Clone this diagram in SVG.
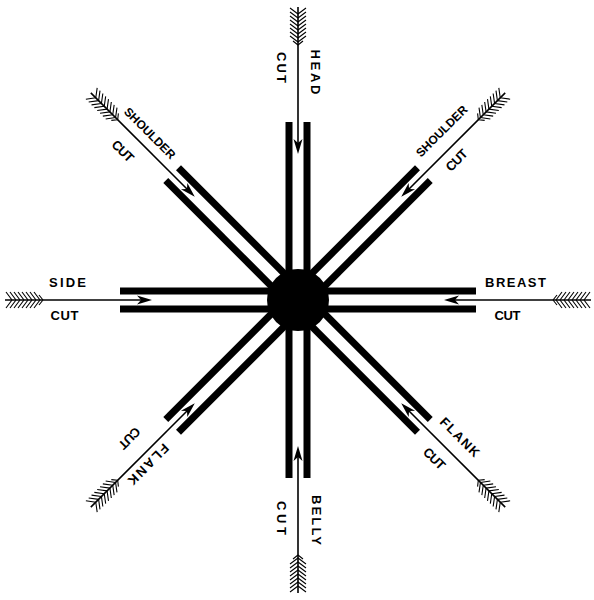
<svg xmlns="http://www.w3.org/2000/svg" xmlns:xlink="http://www.w3.org/1999/xlink" width="594" height="600" viewBox="0 0 594 600">
<style>
.bar{fill:#000}
.shaft{stroke:#000;stroke-width:1.6;fill:none}
.feather{stroke:#000;stroke-width:1.1;fill:none}
.head{fill:#000}
.lbl{font-family:"Liberation Sans",Arial,sans-serif;font-weight:bold;font-size:13px;fill:#000;text-anchor:middle}
.sm{font-size:12px}
</style>
<defs>
<g id="barpair" class="bar">
<rect x="25" y="-12.5" width="153" height="7"/>
<rect x="25" y="5.5" width="153" height="7"/>
</g>
<g id="arrow">
<line class="shaft" x1="152" y1="0" x2="293" y2="0"/>
<path class="head" d="M146,0 L161,-4.5 L157,0 L161,4.5 Z"/>
<path class="feather" d="M255,0 l4,-5 M255,0 l4,5 M258,0 l6,-8 M258,0 l6,8 M262,0 l6,-8 M262,0 l6,8 M266,0 l6,-8 M266,0 l6,8 M270,0 l6,-8 M270,0 l6,8 M274,0 l6,-8 M274,0 l6,8 M278,0 l6,-8 M278,0 l6,8 M282,0 l6,-8 M282,0 l6,8 M286,0 l6,-8 M286,0 l6,8"/>
</g>
</defs>
<rect width="594" height="600" fill="#fff"/>
<g id="arm-head">
<use xlink:href="#barpair" transform="translate(298,300) rotate(270)"/>
<text class="lbl" transform="translate(316,72) rotate(90)" y="4.7" textLength="45" lengthAdjust="spacing">HEAD</text>
<text class="lbl" transform="translate(281.5,67.5) rotate(90)" y="4.7" textLength="31" lengthAdjust="spacing">CUT</text>
</g>
<g id="arm-shoulder-left">
<use xlink:href="#barpair" transform="translate(298,300) rotate(225)"/>
<text class="lbl sm" transform="translate(150,133) rotate(45)" y="4.4" textLength="67" lengthAdjust="spacing">SHOULDER</text>
<text class="lbl" transform="translate(123,151) rotate(45)" y="4.7" textLength="25" lengthAdjust="spacing">CUT</text>
</g>
<g id="arm-shoulder-right">
<use xlink:href="#barpair" transform="translate(298,300) rotate(315)"/>
<text class="lbl sm" transform="translate(441.5,131) rotate(-45)" y="4.4" textLength="67" lengthAdjust="spacing">SHOULDER</text>
<text class="lbl" transform="translate(456.5,160) rotate(-45)" y="4.7" textLength="25" lengthAdjust="spacing">CUT</text>
</g>
<g id="arm-side">
<use xlink:href="#barpair" transform="translate(298,300) rotate(180)"/>
<text class="lbl" transform="translate(67.5,282)" y="4.7" textLength="37" lengthAdjust="spacing">SIDE</text>
<text class="lbl" transform="translate(64.5,315.5)" y="4.7" textLength="28" lengthAdjust="spacing">CUT</text>
</g>
<g id="arm-breast">
<use xlink:href="#barpair" transform="translate(298,300)"/>
<text class="lbl" transform="translate(515.5,282.5)" y="4.7" textLength="61" lengthAdjust="spacing">BREAST</text>
<text class="lbl" transform="translate(507.5,315)" y="4.7" textLength="26" lengthAdjust="spacing">CUT</text>
</g>
<g id="arm-flank-right">
<use xlink:href="#barpair" transform="translate(298,300) rotate(45)"/>
<text class="lbl" transform="translate(460,437) rotate(45)" y="4.7" textLength="50" lengthAdjust="spacing">FLANK</text>
<text class="lbl" transform="translate(434.5,458.5) rotate(45)" y="4.7" textLength="25" lengthAdjust="spacing">CUT</text>
</g>
<g id="arm-flank-left">
<use xlink:href="#barpair" transform="translate(298,300) rotate(135)"/>
<text class="lbl" transform="translate(148.5,464.5) rotate(135)" y="4.7" textLength="52" lengthAdjust="spacing">FLANK</text>
<text class="lbl" transform="translate(129.5,438.5) rotate(135)" y="4.7" textLength="25" lengthAdjust="spacing">CUT</text>
</g>
<g id="arm-belly">
<use xlink:href="#barpair" transform="translate(298,300) rotate(90)"/>
<text class="lbl" transform="translate(316.5,520) rotate(90)" y="4.7" textLength="50" lengthAdjust="spacing">BELLY</text>
<text class="lbl" transform="translate(282,518) rotate(90)" y="4.7" textLength="34" lengthAdjust="spacing">CUT</text>
</g>
<g id="hub">
<circle cx="298" cy="300" r="31" fill="#000"/>
</g>
<g id="connectors">
<use xlink:href="#arrow" transform="translate(298,300) rotate(270)"/>
<use xlink:href="#arrow" transform="translate(298,300) rotate(225)"/>
<use xlink:href="#arrow" transform="translate(298,300) rotate(315)"/>
<use xlink:href="#arrow" transform="translate(298,300) rotate(180)"/>
<use xlink:href="#arrow" transform="translate(298,300)"/>
<use xlink:href="#arrow" transform="translate(298,300) rotate(45)"/>
<use xlink:href="#arrow" transform="translate(298,300) rotate(135)"/>
<use xlink:href="#arrow" transform="translate(298,300) rotate(90)"/>
</g>
</svg>
